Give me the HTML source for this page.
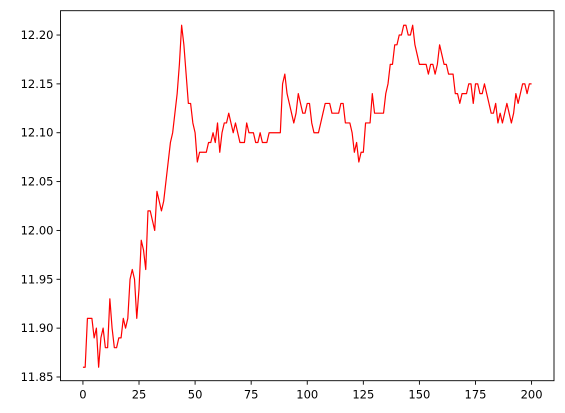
<!DOCTYPE html>
<html><head><meta charset="utf-8"><style>
html,body{margin:0;padding:0;background:#fff;}
svg{display:block;font-family:"DejaVu Sans","Liberation Sans",sans-serif;}
</style></head><body>
<svg id="chart" width="565" height="413" viewBox="0 0 565 413" xmlns="http://www.w3.org/2000/svg">
<rect x="0" y="0" width="565" height="413" fill="#fff"/>
<g id="plot"></g>
</svg>
<script>
const xTicks = [0, 25, 50, 75, 100, 125, 150, 175, 200];
const yTicks = [11.85, 11.90, 11.95, 12.00, 12.05, 12.10, 12.15, 12.20];
const yTickLabels = ["11.85","11.90","11.95","12.00","12.05","12.10","12.15","12.20"];
const values = [
11.86,11.86,11.91,11.91,11.91,11.89,11.90,11.86,11.89,11.90,
11.88,11.88,11.93,11.90,11.88,11.88,11.89,11.89,11.91,11.90,
11.91,11.95,11.96,11.95,11.91,11.94,11.99,11.98,11.96,12.02,
12.02,12.01,12.00,12.04,12.03,12.02,12.03,12.05,12.07,12.09,
12.10,12.12,12.14,12.17,12.21,12.19,12.16,12.13,12.13,12.11,
12.10,12.07,12.08,12.08,12.08,12.08,12.09,12.09,12.10,12.09,
12.11,12.08,12.10,12.11,12.11,12.12,12.11,12.10,12.11,12.10,
12.09,12.09,12.09,12.11,12.10,12.10,12.10,12.09,12.09,12.10,
12.09,12.09,12.09,12.10,12.10,12.10,12.10,12.10,12.10,12.15,
12.16,12.14,12.13,12.12,12.11,12.12,12.14,12.13,12.12,12.12,
12.13,12.13,12.11,12.10,12.10,12.10,12.11,12.12,12.13,12.13,
12.13,12.12,12.12,12.12,12.12,12.13,12.13,12.11,12.11,12.11,
12.10,12.08,12.09,12.07,12.08,12.08,12.11,12.11,12.11,12.14,
12.12,12.12,12.12,12.12,12.12,12.14,12.15,12.17,12.17,12.19,
12.19,12.20,12.20,12.21,12.21,12.20,12.20,12.21,12.19,12.18,
12.17,12.17,12.17,12.17,12.16,12.17,12.17,12.16,12.17,12.19,
12.18,12.17,12.17,12.16,12.16,12.16,12.14,12.14,12.13,12.14,
12.14,12.14,12.15,12.15,12.13,12.15,12.15,12.14,12.14,12.15,
12.14,12.13,12.12,12.12,12.13,12.11,12.12,12.11,12.12,12.13,
12.12,12.11,12.12,12.14,12.13,12.14,12.15,12.15,12.14,12.15,
12.15
];
const L=60.5, R=554, T=10.7, B=380.7;
const xMin=-10, xMax=210, yMin=11.8462, yMax=12.2249;
const xs = v => L + (v - xMin) / (xMax - xMin) * (R - L);
const ys = v => B - (v - yMin) / (yMax - yMin) * (B - T);
const NS="http://www.w3.org/2000/svg";
const g=document.getElementById('plot');
function mk(tag, attrs){const e=document.createElementNS(NS,tag);for(const k in attrs)e.setAttribute(k,attrs[k]);g.appendChild(e);return e;}

let d = values.map((v,i)=>(i?'L':'M')+xs(i).toFixed(2)+','+ys(v).toFixed(2)).join(' ');
const line = mk('path',{d:d,fill:'none',stroke:'#ff0000','stroke-width':1.2,'stroke-linejoin':'round'});



const frame = mk('rect',{x:L,y:T,width:R-L,height:B-T,fill:'none',stroke:'#000','stroke-width':0.9});



xTicks.forEach(t=>{
  const x=xs(t);
  const tk = mk('line',{x1:x,x2:x,y1:B,y2:B+4,stroke:'#000','stroke-width':0.9});
  
  
  const tx = mk('text',{x:x,y:B+18,'text-anchor':'middle','font-size':'11.5',fill:'#000'});
  tx.textContent=String(t);
  
  
});
yTicks.forEach((t,i)=>{
  const y=ys(t);
  const tk = mk('line',{x1:L-4,x2:L,y1:y,y2:y,stroke:'#000','stroke-width':0.9});
  
  
  const tx = mk('text',{x:L-7,y:y+4,'text-anchor':'end','font-size':'11.5',fill:'#000'});
  tx.textContent=yTickLabels[i];
  
  
});
</script>
</body></html>
